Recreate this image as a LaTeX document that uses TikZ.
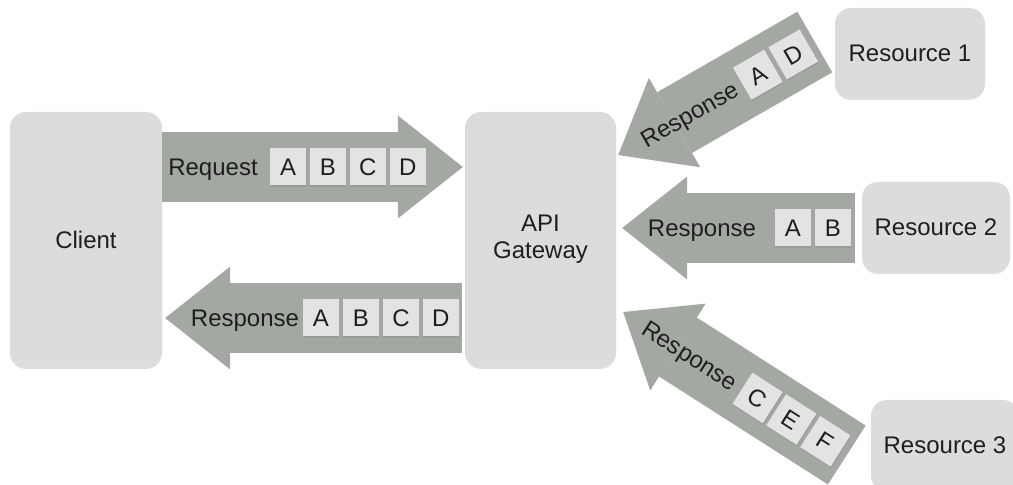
\documentclass[tikz,border=0pt]{standalone}
\usepackage{fontspec}
\setmainfont{Liberation Sans}
\usetikzlibrary{arrows.meta,shadows}
\definecolor{blockgray}{HTML}{DCDCDC}
\definecolor{flowgray}{HTML}{A3A8A2}
\definecolor{itemgray}{HTML}{E3E3E3}
\definecolor{inkgray}{HTML}{1E1E1E}

\begin{document}
\begin{tikzpicture}[x=1pt,y=1pt]
  \tikzset{block/.style={fill=blockgray,rounded corners=16pt,inner sep=0pt,text=inkgray,align=center,
    font=\fontsize{24}{27}\selectfont,drop shadow={shadow xshift=0pt,shadow yshift=-2pt,opacity=.25}}}
  \tikzset{flow/.style={flowgray,line width=70pt,-{Triangle[length=65pt,width=103pt,line width=0pt]}}}
  \tikzset{item/.style={fill=itemgray,minimum width=36pt,minimum height=37pt,inner sep=0pt,text=inkgray,sloped,
    text height=17.2pt,text depth=0pt,
    font=\fontsize{24}{27}\selectfont,drop shadow={shadow xshift=.5pt,shadow yshift=-1.5pt,opacity=.3}}}
  \tikzset{tag/.style={text=inkgray,font=\fontsize{24}{27}\selectfont,inner sep=0pt,sloped,
    text height=17.2pt,text depth=0pt}}
  \useasboundingbox (0,0) rectangle (1013,485);
  \node[block,minimum width=152pt,minimum height=255pt] (client) at (86,245.5) {Client};
  \node[block,minimum width=151pt,minimum height=255pt] (gateway) at (540.5,245.5) {API\\Gateway};
  \node[block,minimum width=150pt,minimum height=90pt] (resOne) at (910,432) {Resource 1};
  \node[block,minimum width=148pt,minimum height=90pt] (resTwo) at (936,258) {Resource 2};
  \node[block,minimum width=148pt,minimum height=90pt] (resThree) at (945,40) {Resource 3};
  % client <-> gateway
  \draw[flow] ([yshift=72.5pt]client.east) -- ([xshift=-2pt,yshift=72.5pt]gateway.west)
    node[tag,pos=.169] {Request}
    node[item,pos=.419] {A} node[item,pos=.551] {B} node[item,pos=.684] {C} node[item,pos=.817] {D};
  \draw[flow] ([xshift=-3pt,yshift=-78.5pt]gateway.west) -- ([xshift=3pt,yshift=-78.5pt]client.east)
    node[tag,pos=.731] {Response}
    node[item,pos=.475] {A} node[item,pos=.340] {B} node[item,pos=.205] {C} node[item,pos=.071] {D};
  % resources -> gateway
  \draw[flow] ([xshift=-20pt,yshift=11pt]resOne.west) -- ([xshift=2pt,yshift=84.5pt]gateway.east)
    node[tag,pos=.639] {Response}
    node[item,pos=.29] {A} node[item,pos=.11] {D};
  \draw[flow] ([xshift=-7pt,yshift=-1pt]resTwo.west) -- ([xshift=6pt,yshift=11.5pt]gateway.east)
    node[tag,pos=.657] {Response}
    node[item,pos=.266] {A} node[item,pos=.094] {B};
  \draw[flow] ([xshift=-24pt,yshift=-10pt]resThree.west) -- ([xshift=7pt,yshift=-72.5pt]gateway.east)
    node[tag,pos=.70] {Response}
    node[item,pos=.399] {C} node[item,pos=.248] {E} node[item,pos=.096] {F};
\end{tikzpicture}
\end{document}
